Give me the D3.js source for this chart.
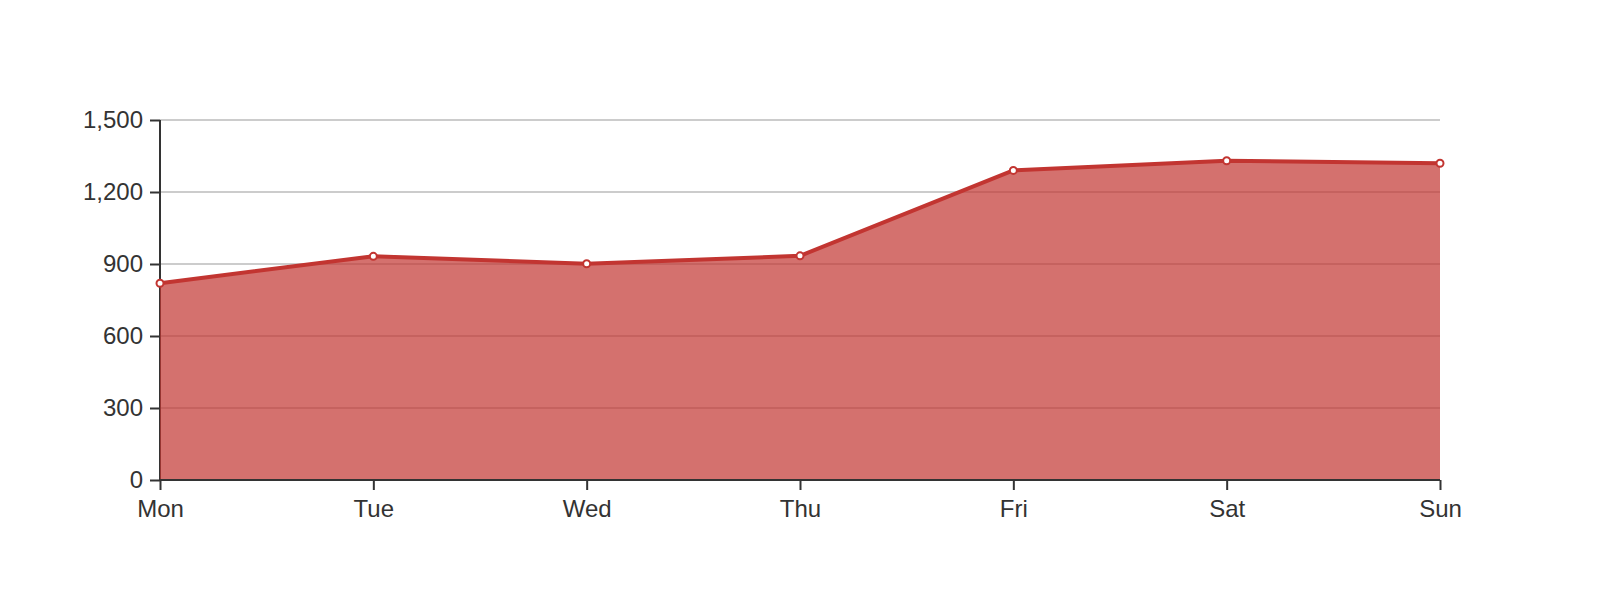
<!DOCTYPE html>
<html><head><meta charset="utf-8">
<script src="https://cdn.jsdelivr.net/npm/d3@7"></script>
<style>html,body{margin:0;padding:0;background:#fff;}svg{display:block;}</style>
</head><body>
<svg id="chart" width="1600" height="600"></svg>
<script>
const categories = ["Mon","Tue","Wed","Thu","Fri","Sat","Sun"];
const values = [820, 932, 901, 934, 1290, 1330, 1320];
const yTicks = [0, 300, 600, 900, 1200, 1500];

const W = 1600, H = 600;
const m = {left:160, right:160, top:120, bottom:120};
const svg = d3.select("#chart");
const x = d3.scalePoint().domain(categories).range([m.left, W - m.right]);
const y = d3.scaleLinear().domain([0, 1500]).range([H - m.bottom, m.top]);
const color = "#c23531";
const font = "'Liberation Sans', Arial, sans-serif";

// grid lines
svg.append("g").selectAll("line").data(yTicks.filter(d => d > 0)).join("line")
  .attr("x1", m.left).attr("x2", W - m.right)
  .attr("y1", d => y(d)).attr("y2", d => y(d))
  .attr("stroke", "#ccc").attr("stroke-width", 2);

// y axis
const yAxis = svg.append("g").attr("transform", `translate(${m.left},0)`)
  .call(d3.axisLeft(y).tickValues(yTicks).tickSize(10).tickPadding(7).tickFormat(d3.format(",")));
yAxis.select(".domain").attr("stroke", "#333").attr("stroke-width", 2).attr("d", `M0,${y(0)}V${y(1500)}`);
yAxis.selectAll(".tick line").attr("stroke", "#333").attr("stroke-width", 2);
yAxis.selectAll(".tick text").attr("fill", "#333").style("font-family", font).style("font-size", "24px");

// area
const area = d3.area().x((d,i) => x(categories[i])).y0(y(0)).y1(d => y(d));
svg.append("path").datum(values).attr("d", area).attr("fill", color).attr("fill-opacity", 0.7);

// x axis
const xAxis = svg.append("g").attr("transform", `translate(0,${y(0)})`)
  .call(d3.axisBottom(x).tickSize(10).tickPadding(10));
xAxis.select(".domain").attr("stroke", "#333").attr("stroke-width", 2).attr("d", `M${m.left},0H${W - m.right}`);
xAxis.selectAll(".tick line").attr("stroke", "#333").attr("stroke-width", 2);
xAxis.selectAll(".tick text").attr("fill", "#333").style("font-family", font).style("font-size", "24px");

// line
const line = d3.line().x((d,i) => x(categories[i])).y(d => y(d));
svg.append("path").datum(values).attr("d", line).attr("fill", "none")
  .attr("stroke", color).attr("stroke-width", 4).attr("stroke-linejoin", "round");

// points
svg.append("g").selectAll("circle").data(values).join("circle")
  .attr("cx", (d,i) => x(categories[i])).attr("cy", d => y(d)).attr("r", 3.5)
  .attr("fill", "#fff").attr("stroke", color).attr("stroke-width", 2);
</script>
</body></html>
